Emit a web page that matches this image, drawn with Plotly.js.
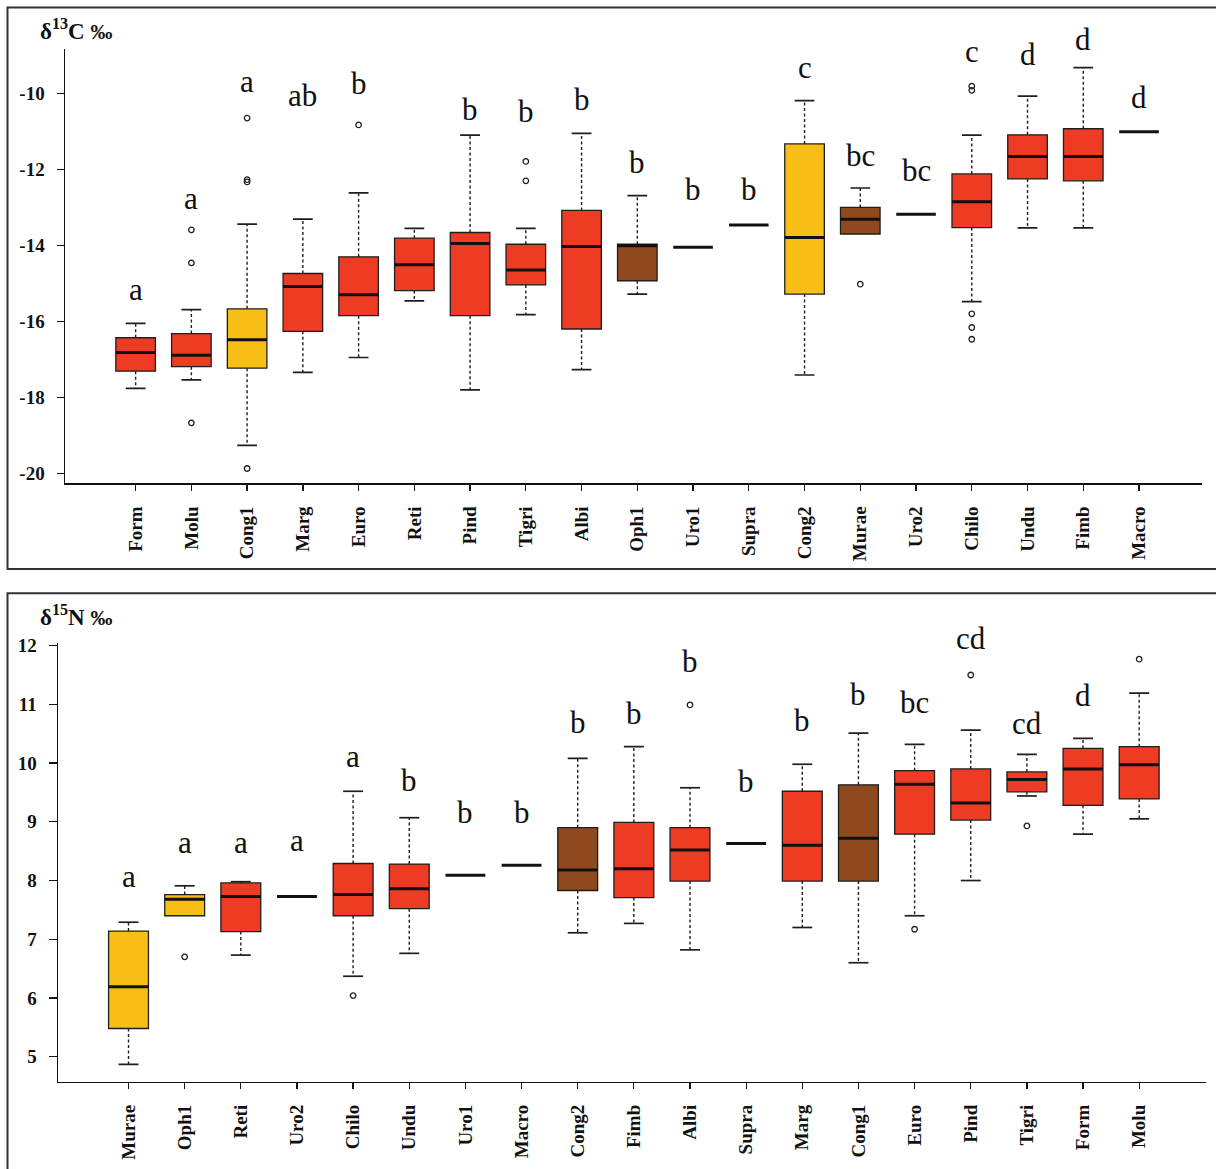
<!DOCTYPE html>
<html><head><meta charset="utf-8">
<script src="https://cdn.plot.ly/plotly-3.0.1.min.js"></script>
<style>html,body{margin:0;padding:0;background:#fff}</style>
</head><body><div id="chart" style="width:1216px;height:1169px"></div>
<script>
// ---------- δ13C panel (top) ----------
const catsC   = ["Form","Molu","Cong1","Marg","Euro","Reti","Pind","Tigri","Albi","Oph1","Uro1","Supra","Cong2","Murae","Uro2","Chilo","Undu","Fimb","Macro"];
const whiLoC  = [-17.75,-17.53,-19.25,-17.33,-16.94,-15.45,-17.79,-15.81,-17.26,-15.27,-14.04,-13.45,-17.40,-13.69,-13.17,-15.47,-13.53,-13.53,-11.00];
const q1C     = [-17.30,-17.18,-17.22,-16.25,-15.84,-15.18,-15.84,-15.03,-16.19,-14.92,-14.04,-13.45,-15.27,-13.69,-13.17,-13.52,-12.24,-12.29,-11.00];
const medC    = [-16.81,-16.88,-16.47,-15.07,-15.29,-14.50,-13.94,-14.64,-14.02,-14.00,-14.04,-13.45,-13.78,-13.30,-13.17,-12.84,-11.65,-11.65,-11.00];
const q3C     = [-16.42,-16.31,-15.66,-14.73,-14.29,-13.80,-13.65,-13.96,-13.07,-13.96,-14.04,-13.45,-11.32,-12.99,-13.17,-12.11,-11.08,-10.92,-11.00];
const whiHiC  = [-16.04,-15.68,-13.43,-13.30,-12.61,-13.54,-11.09,-13.54,-11.04,-12.68,-14.04,-13.45,-10.18,-12.48,-13.17,-11.09,-10.06,-9.31,-11.00];
const outCatC = ["Molu","Molu","Molu","Cong1","Cong1","Cong1","Cong1","Euro","Tigri","Tigri","Murae","Chilo","Chilo","Chilo","Chilo","Chilo"];
const outValC = [-13.58,-14.45,-18.66,-10.64,-12.26,-12.32,-19.86,-10.82,-11.78,-12.29,-15.01,-9.80,-9.91,-15.79,-16.15,-16.46];
const lettersC = ["a","a","a","ab","b","","b","b","b","b","b","b","c","bc","bc","c","d","d","d"];
const letterYC = [-15.45,-13.06,-9.97,-10.36,-10.03,null,-10.71,-10.78,-10.45,-12.11,-12.82,-12.82,-9.61,-11.94,-12.33,-9.20,-9.26,-8.87,-10.40];
const yTicksC = [-20,-18,-16,-14,-12,-10];

// ---------- δ15N panel (bottom) ----------
const catsN   = ["Murae","Oph1","Reti","Uro2","Chilo","Undu","Uro1","Macro","Cong2","Fimb","Albi","Supra","Marg","Cong1","Euro","Pind","Tigri","Form","Molu"];
const whiLoN  = [4.87,7.40,6.73,7.73,6.37,6.76,8.09,8.26,7.11,7.27,6.82,8.63,7.20,6.60,7.40,8.00,9.44,8.79,9.05];
const q1N     = [5.48,7.40,7.13,7.73,7.40,7.52,8.09,8.26,7.83,7.71,7.99,8.63,7.99,7.99,8.79,9.03,9.51,9.28,9.39];
const medN    = [6.19,7.68,7.73,7.73,7.76,7.86,8.09,8.26,8.18,8.20,8.52,8.63,8.60,8.72,9.64,9.32,9.72,9.90,9.97];
const q3N     = [7.14,7.76,7.96,7.73,8.29,8.28,8.09,8.26,8.90,8.99,8.90,8.63,9.52,9.63,9.87,9.90,9.85,10.25,10.28];
const whiHiN  = [7.29,7.91,7.98,7.73,9.52,9.07,8.09,8.26,10.08,10.28,9.58,8.63,9.98,10.51,10.32,10.56,10.15,10.42,11.19];
const outCatN = ["Oph1","Chilo","Albi","Euro","Pind","Tigri","Molu"];
const outValN = [6.70,6.04,10.99,7.17,11.50,8.93,11.77];
const lettersN = ["a","a","a","a","a","b","b","b","b","b","b","b","b","b","bc","cd","cd","d","d"];
const letterYN = [7.87,8.46,8.46,8.49,9.91,9.51,8.97,8.97,10.50,10.65,11.53,9.49,10.53,10.97,10.84,11.93,10.47,10.95,12.26];
const yTicksN = [5,6,7,8,9,10,11,12];

// ---------- styles ----------
const RED = "#ee3b24", YELLOW = "#f7be16", BROWN = "#8e4a1e";
const yellowC = ["Cong1","Cong2"], brownC = ["Oph1","Murae"];
const yellowN = ["Murae","Oph1"], brownN = ["Cong2","Cong1"];
const BOXW = 0.71;
const SERIF = "Liberation Serif, Times New Roman, serif";

function panel(cats, lo, q1, med, q3, hi, oc, ov, letters, ly, yellow, brown, xa, ya){
  const traces = [], ann = [];
  const idx = cats.map((c,i)=>i);
  const fill = cats.map(c => yellow.includes(c) ? YELLOW : (brown.includes(c) ? BROWN : RED));
  traces.push({type:"bar", x: idx, base: q1, y: q3.map((v,i)=> v - q1[i] > 0 ? v - q1[i] : null),
    width: BOXW, marker:{color: fill, line:{color:"#1e1e1e", width:1.3}},
    xaxis: xa, yaxis: ya, hoverinfo:"skip"});
  const wx=[], wy=[], cx=[], cy=[], mx=[], my=[];
  idx.forEach(i=>{
    if (hi[i] > q3[i]) { wx.push(i,i,null); wy.push(q3[i],hi[i],null);
      cx.push(i-BOXW/4,i+BOXW/4,null); cy.push(hi[i],hi[i],null); }
    if (lo[i] < q1[i]) { wx.push(i,i,null); wy.push(q1[i],lo[i],null);
      cx.push(i-BOXW/4,i+BOXW/4,null); cy.push(lo[i],lo[i],null); }
    mx.push(i-BOXW/2,i+BOXW/2,null); my.push(med[i],med[i],null);
  });
  traces.push({type:"scatter", mode:"lines", x:wx, y:wy, line:{color:"#1e1e1e", width:1.4, dash:"3px,2.5px"}, xaxis:xa, yaxis:ya, hoverinfo:"skip"});
  traces.push({type:"scatter", mode:"lines", x:cx, y:cy, line:{color:"#1e1e1e", width:1.7}, xaxis:xa, yaxis:ya, hoverinfo:"skip"});
  traces.push({type:"scatter", mode:"lines", x:mx, y:my, line:{color:"#111", width:3}, xaxis:xa, yaxis:ya, hoverinfo:"skip"});
  traces.push({type:"scatter", mode:"markers", x: oc.map(c=>cats.indexOf(c)), y: ov,
    marker:{symbol:"circle-open", size:5.5, color:"#1e1e1e", line:{width:1.3}}, xaxis:xa, yaxis:ya, hoverinfo:"skip"});
  idx.forEach(i=>{
    if (!letters[i]) return;
    ann.push({xref: xa, yref: ya, x: i, y: ly[i], text: letters[i], showarrow:false,
      xanchor:"center", yanchor:"bottom", yshift:-8, font:{family:SERIF, size:31, color:"#111"}});
  });
  return {traces, ann};
}

const P1 = panel(catsC, whiLoC, q1C, medC, q3C, whiHiC, outCatC, outValC, lettersC, letterYC, yellowC, brownC, "x", "y");
const P2 = panel(catsN, whiLoN, q1N, medN, q3N, whiHiN, outCatN, outValN, lettersN, letterYN, yellowN, brownN, "x2", "y2");

const H = 1169, W = 1216;
const tickFont = {family:SERIF, size:19, color:"#111", weight:"bold"};
const xCommon = {showgrid:false, zeroline:false, showline:true, linecolor:"#111", linewidth:1.5,
  ticks:"outside", ticklen:6, tickcolor:"#111", tickwidth:1.3, tickangle:-90, tickfont:tickFont,
  ticklabelstandoff:8, fixedrange:true};
const yCommon = {showgrid:false, zeroline:false, showline:true, linecolor:"#111", linewidth:1.5,
  ticks:"outside", ticklen:7, tickcolor:"#111", tickwidth:1.3, tickfont:tickFont, ticklabelstandoff:8, fixedrange:true};

const layout = {
  width:W, height:H, margin:{l:0,r:0,t:0,b:0}, showlegend:false,
  paper_bgcolor:"#fff", plot_bgcolor:"rgba(0,0,0,0)", barmode:"overlay",
  xaxis: Object.assign({}, xCommon, {domain:[65/W, 1202/W], range:[-1.267, 19.13], anchor:"y",
    tickvals: catsC.map((c,i)=>i), ticktext: catsC}),
  yaxis: Object.assign({}, yCommon, {domain:[(H-483.3)/H, (H-49.3)/H], range:[-20.25,-8.83], anchor:"x",
    tickvals: yTicksC, ticktext: yTicksC.map(String)}),
  xaxis2: Object.assign({}, xCommon, {domain:[58/W, 1206/W], range:[-1.256, 19.19], anchor:"y2",
    tickvals: catsN.map((c,i)=>i), ticktext: catsN}),
  yaxis2: Object.assign({}, yCommon, {domain:[(H-1081.7)/H, (H-643.3)/H], range:[4.574,12.04], anchor:"x2",
    tickvals: yTicksN, ticktext: yTicksN.map(String), ticklen:8}),
  shapes: [
    {type:"rect", xref:"paper", yref:"paper", x0:7.5/W, x1:1.02, y0:(H-569)/H, y1:(H-7.5)/H, line:{color:"#333", width:2}},
    {type:"rect", xref:"paper", yref:"paper", x0:7.5/W, x1:1.02, y0:-0.02, y1:(H-593.3)/H, line:{color:"#333", width:2}}
  ],
  annotations: P1.ann.concat(P2.ann).concat([
    {xref:"paper", yref:"paper", x:38/W, y:(H-29)/H, xanchor:"left", yanchor:"middle", showarrow:false,
     text:"<b>δ<sup>13</sup>C <span style='font-size:22px'>‰</span></b>", font:{family:SERIF, size:23, color:"#111"}},
    {xref:"paper", yref:"paper", x:38/W, y:(H-615)/H, xanchor:"left", yanchor:"middle", showarrow:false,
     text:"<b>δ<sup>15</sup>N <span style='font-size:22px'>‰</span></b>", font:{family:SERIF, size:23, color:"#111"}}
  ])
};

Plotly.newPlot("chart", P1.traces.concat(P2.traces), layout, {staticPlot:true, displayModeBar:false});
</script></body></html>
